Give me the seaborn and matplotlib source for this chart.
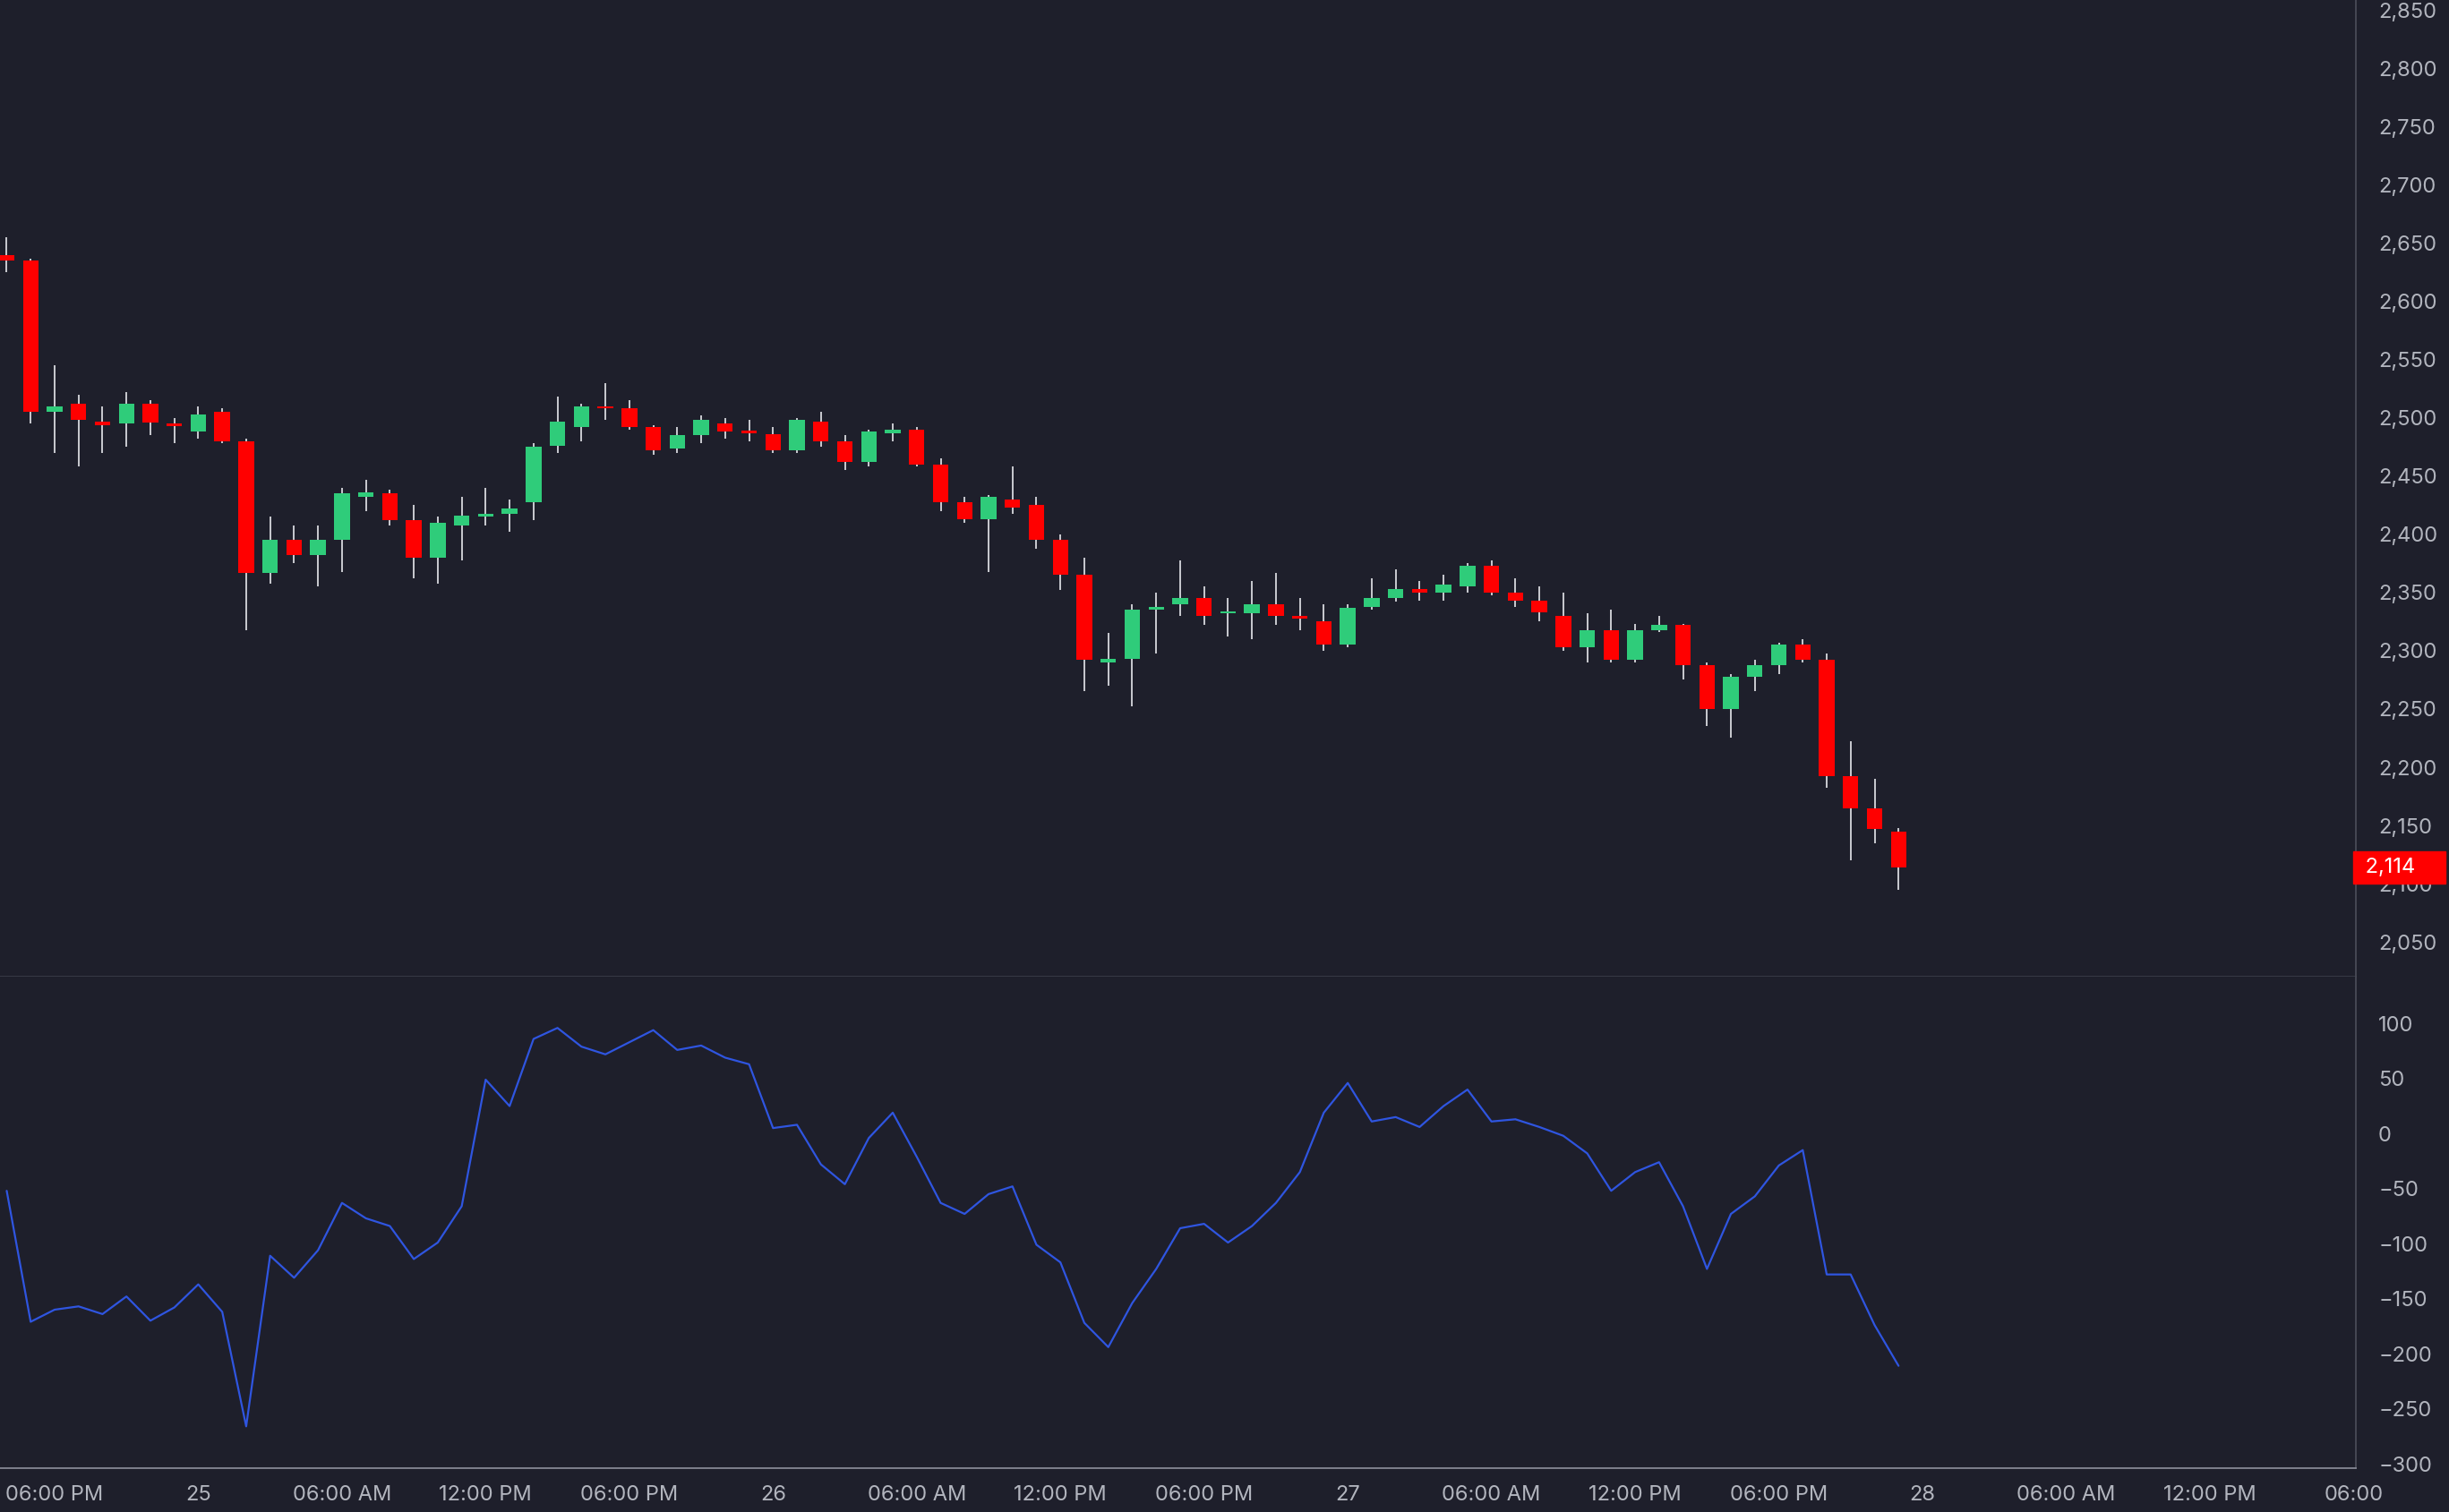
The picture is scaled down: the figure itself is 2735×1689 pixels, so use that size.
import numpy as np
import matplotlib.pyplot as plt
import seaborn as sns
from matplotlib.ticker import FuncFormatter

sns.set_theme(style="dark", font="Inter")

BG = "#1e1f2b"
TXT = "#b2b5be"
UP = "#2fcc7a"
DOWN = "#ff0000"

# hourly candles, 16:00 on the 24th .. 23:00 on the 27th
opens = [2640, 2635, 2505, 2512, 2497, 2495, 2512, 2495, 2488, 2505,
         2480, 2367, 2395, 2382, 2395, 2432, 2435, 2412, 2380, 2408,
         2415, 2418, 2428, 2476, 2492, 2510, 2508, 2492, 2474, 2485,
         2495, 2489, 2486, 2472, 2497, 2480, 2462, 2487, 2490, 2460,
         2428, 2413, 2430, 2425, 2395, 2365, 2290, 2293, 2335, 2340,
         2345, 2332, 2332, 2340, 2330, 2325, 2305, 2338, 2345, 2353,
         2350, 2355, 2373, 2350, 2343, 2330, 2303, 2318, 2292, 2318,
         2322, 2288, 2250, 2278, 2288, 2305, 2292, 2192, 2165, 2145]
closes = [2635, 2505, 2510, 2498, 2494, 2512, 2496, 2493, 2503, 2480,
          2367, 2395, 2382, 2395, 2435, 2436, 2412, 2380, 2410, 2416,
          2418, 2422, 2475, 2497, 2510, 2508, 2492, 2472, 2485, 2498,
          2488, 2487, 2472, 2498, 2480, 2462, 2488, 2490, 2460, 2428,
          2413, 2432, 2423, 2395, 2365, 2292, 2293, 2335, 2338, 2345,
          2330, 2334, 2340, 2330, 2328, 2305, 2337, 2345, 2353, 2350,
          2357, 2373, 2350, 2343, 2333, 2303, 2318, 2292, 2318, 2322,
          2288, 2250, 2278, 2288, 2305, 2292, 2192, 2165, 2147, 2114]
highs = [2655, 2637, 2545, 2520, 2510, 2522, 2515, 2500, 2510, 2508,
         2482, 2415, 2408, 2408, 2440, 2447, 2438, 2425, 2415, 2432,
         2440, 2430, 2478, 2518, 2512, 2530, 2515, 2494, 2492, 2502,
         2500, 2498, 2492, 2500, 2505, 2485, 2490, 2495, 2492, 2465,
         2432, 2434, 2458, 2432, 2400, 2380, 2315, 2340, 2350, 2378,
         2355, 2345, 2360, 2367, 2345, 2340, 2340, 2362, 2370, 2360,
         2365, 2375, 2378, 2362, 2355, 2350, 2332, 2335, 2323, 2330,
         2323, 2290, 2280, 2292, 2307, 2310, 2298, 2222, 2190, 2148]
lows = [2625, 2495, 2470, 2458, 2470, 2475, 2485, 2478, 2482, 2478,
        2318, 2358, 2375, 2355, 2368, 2420, 2408, 2362, 2358, 2378,
        2408, 2402, 2412, 2470, 2480, 2498, 2490, 2468, 2470, 2478,
        2482, 2480, 2470, 2470, 2475, 2455, 2458, 2480, 2458, 2420,
        2410, 2368, 2418, 2388, 2352, 2265, 2270, 2252, 2298, 2330,
        2322, 2312, 2310, 2322, 2318, 2300, 2303, 2335, 2342, 2343,
        2343, 2350, 2348, 2338, 2325, 2300, 2290, 2290, 2290, 2316,
        2275, 2235, 2225, 2265, 2280, 2290, 2182, 2120, 2135, 2095]
osc = [-52, -171, -160, -157, -164, -148, -170, -158, -137, -162,
       -266, -111, -131, -106, -63, -77, -84, -114, -99, -66,
       49, 25, 86, 96, 79, 72, 83, 94, 76, 80,
       69, 63, 5, 8, -28, -46, -4, 19, -21, -63,
       -73, -55, -48, -101, -117, -172, -194, -154, -123, -86,
       -82, -99, -84, -63, -35, 19, 46, 11, 15, 6,
       25, 40, 11, 13, 6, -2, -18, -52, -35, -26,
       -66, -123, -73, -57, -29, -15, -128, -128, -174, -211]

# x = hours after 06:00 PM on the 24th
hours = np.arange(len(opens)) - 2
tick_pos = np.arange(0, 97, 6)
tick_labels = ["06:00 PM", "25", "06:00 AM", "12:00 PM", "06:00 PM", "26", "06:00 AM", "12:00 PM",
               "06:00 PM", "27", "06:00 AM", "12:00 PM", "06:00 PM", "28", "06:00 AM", "12:00 PM", "06:00"]

fig = plt.figure(figsize=(27.35, 16.89), dpi=100, facecolor=BG)
ax1 = fig.add_axes([0, 0.354, 0.962, 0.646], facecolor=BG)
ax2 = fig.add_axes([0, 0.029, 0.962, 0.325], facecolor=BG, sharex=ax1)

o = np.array(opens); c = np.array(closes)
cols = np.where(c >= o, UP, DOWN)
ax1.vlines(hours, lows, highs, color="#d8d9de", linewidth=1.3, zorder=1)
ax1.bar(hours, np.maximum(np.abs(c - o), 1.5), bottom=np.minimum(o, c), width=0.65,
        color=cols, zorder=2, linewidth=0)
ax1.set_ylim(2020, 2859)
ax1.set_xlim(-2.28, 96.1)

sns.lineplot(x=hours, y=osc, ax=ax2, color="#2f55e0", linewidth=1.6)
ax2.set_ylim(-304, 142.5)

for ax in (ax1, ax2):
    ax.yaxis.tick_right()
    ax.grid(False)
    for s in ax.spines.values():
        s.set_visible(False)
    ax.spines["right"].set_visible(True)
    ax.spines["right"].set_color("#4a4c58")
    ax.tick_params(axis="y", colors=TXT, labelsize=17, length=0, pad=18)
    ax.tick_params(axis="x", colors=TXT, labelsize=17, length=0, pad=14)

ax1.spines["bottom"].set_visible(True)
ax1.spines["bottom"].set_color("#3a3c48")
ax2.spines["bottom"].set_visible(True)
ax2.spines["bottom"].set_color("#8a8c98")

ax1.set_yticks(np.arange(2050, 2851, 50))
ax1.yaxis.set_major_formatter(FuncFormatter(lambda v, p: f"{int(v):,}"))
ax2.set_yticks(np.arange(-300, 101, 50))
ax1.tick_params(axis="x", labelbottom=False)
ax2.set_xticks(tick_pos)
ax2.set_xticklabels(tick_labels)

# last price tag
ax1.text(1.0015, closes[-1], f" {closes[-1]:,}    ", transform=ax1.get_yaxis_transform(),
         color="white", fontsize=17, va="center", ha="left",
         bbox=dict(boxstyle="square,pad=0.3", fc=DOWN, ec=DOWN), clip_on=False)

fig.savefig("out.png", dpi=100, facecolor=BG)
